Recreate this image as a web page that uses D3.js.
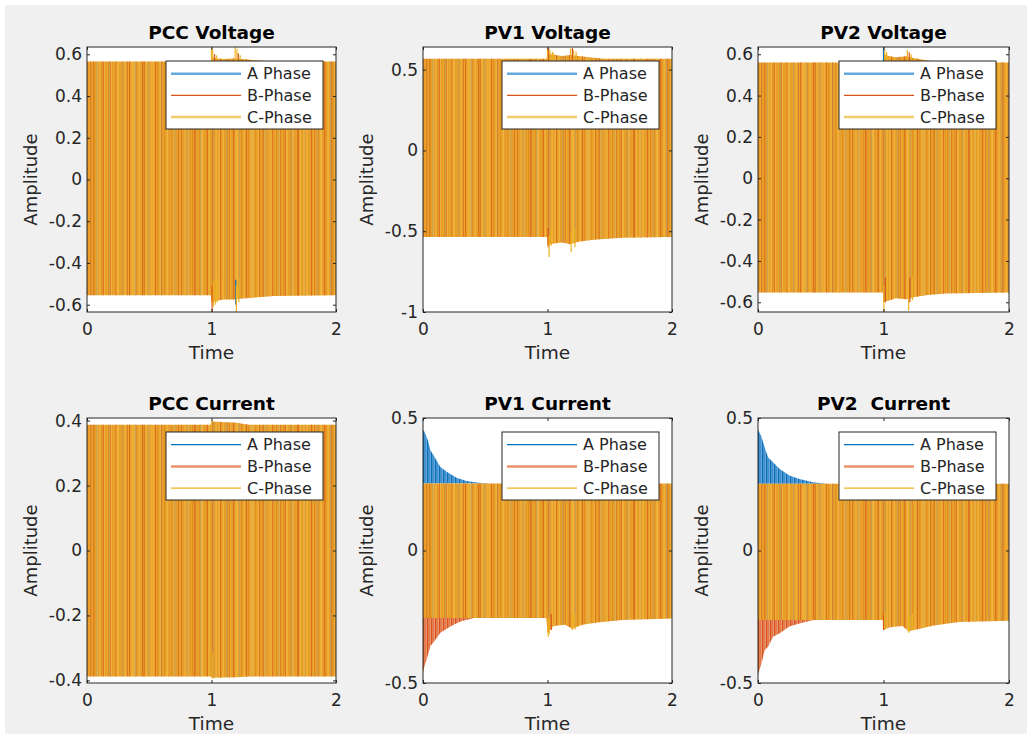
<!DOCTYPE html>
<html>
<head>
<meta charset="utf-8">
<script src="https://cdn.jsdelivr.net/npm/d3@7"></script>
<style>
  body { margin: 0; background: #fff; }
  text { font-family: "DejaVu Sans", sans-serif; fill: #262626; }
</style>
</head>
<body>
<svg width="1032" height="739"></svg>
<script>
// ---- data ----
var titles = ["PCC Voltage", "PV1 Voltage", "PV2 Voltage", "PCC Current", "PV1 Current", "PV2  Current"];
var phaseNames = ["A Phase", "B-Phase", "C-Phase"];
var timeTicks = [0, 1, 2];
var yDomains = [[-0.635, 0.635], [-1, 0.64], [-0.647, 0.635], [-0.408, 0.408], [-0.5, 0.5], [-0.5, 0.5]];
var yTicks = [
  [-0.6, -0.4, -0.2, 0, 0.2, 0.4, 0.6],
  [-1, -0.5, 0, 0.5],
  [-0.6, -0.4, -0.2, 0, 0.2, 0.4, 0.6],
  [-0.4, -0.2, 0, 0.2, 0.4],
  [-0.5, 0, 0.5],
  [-0.5, 0, 0.5]
];

// envelope of the three-phase band (upper / lower peaks over time)
var pccVoltT  = [0, 0.995, 1.0, 1.05, 1.1, 1.18, 1.25, 1.35, 1.5, 2];
var pccVoltHi = [0.565, 0.565, 0.585, 0.58, 0.578, 0.58, 0.578, 0.572, 0.566, 0.565];
var pccVoltLo = [-0.555, -0.555, -0.59, -0.58, -0.575, -0.575, -0.57, -0.565, -0.558, -0.555];

var pv1VoltT  = [0, 0.995, 1.0, 1.06, 1.12, 1.18, 1.25, 1.35, 1.45, 1.6, 2];
var pv1VoltHi = [0.567, 0.567, 0.6, 0.59, 0.585, 0.59, 0.585, 0.575, 0.567, 0.567, 0.567];
var pv1VoltLo = [-0.536, -0.536, -0.585, -0.575, -0.57, -0.58, -0.565, -0.555, -0.548, -0.54, -0.536];

var pv2VoltT  = [0, 0.995, 1.0, 1.05, 1.1, 1.18, 1.25, 1.35, 1.5, 2];
var pv2VoltHi = [0.56, 0.56, 0.6, 0.59, 0.585, 0.59, 0.58, 0.57, 0.562, 0.56];
var pv2VoltLo = [-0.553, -0.553, -0.6, -0.59, -0.58, -0.585, -0.575, -0.565, -0.558, -0.553];

var pccCurT  = [0, 0.995, 1.0, 1.2, 1.3, 2];
var pccCurHi = [0.387, 0.387, 0.397, 0.393, 0.387, 0.387];
var pccCurLo = [-0.388, -0.388, -0.392, -0.39, -0.388, -0.388];

var pv1CurT  = [0, 0.99, 1.0, 1.05, 1.14, 1.2, 1.28, 1.4, 1.6, 2];
var pv1CurHi = [0.253, 0.253, 0.253, 0.253, 0.253, 0.253, 0.253, 0.253, 0.253, 0.253];
var pv1CurLo = [-0.255, -0.255, -0.31, -0.285, -0.28, -0.295, -0.28, -0.272, -0.262, -0.257];

var pv2CurT  = [0, 0.995, 1.0, 1.05, 1.15, 1.2, 1.28, 1.4, 1.6, 2];
var pv2CurHi = [0.252, 0.252, 0.252, 0.252, 0.252, 0.252, 0.252, 0.252, 0.252, 0.252];
var pv2CurLo = [-0.262, -0.262, -0.3, -0.29, -0.285, -0.305, -0.296, -0.283, -0.27, -0.265];

// start-up decay of phase A (top) and phase B (bottom) in the PV currents
var pv1CurAT = [0, 0.01, 0.04, 0.06, 0.1, 0.14, 0.19, 0.27, 0.35, 0.45, 0.55];
var pv1CurAV = [0.455, 0.45, 0.415, 0.378, 0.347, 0.315, 0.297, 0.275, 0.262, 0.256, 0.253];
var pv1CurBT = [0, 0.01, 0.03, 0.06, 0.1, 0.14, 0.22, 0.3, 0.41, 0.5];
var pv1CurBV = [-0.462, -0.44, -0.41, -0.36, -0.337, -0.31, -0.287, -0.268, -0.255, -0.255];

var pv2CurAT = [0, 0.027, 0.053, 0.08, 0.12, 0.173, 0.25, 0.33, 0.44, 0.55];
var pv2CurAV = [0.457, 0.43, 0.39, 0.352, 0.333, 0.308, 0.283, 0.27, 0.258, 0.252];
var pv2CurBT = [0, 0.027, 0.053, 0.08, 0.12, 0.173, 0.25, 0.33, 0.44, 0.55];
var pv2CurBV = [-0.468, -0.427, -0.376, -0.363, -0.325, -0.312, -0.287, -0.275, -0.262, -0.262];

// fault transient spikes (time, peak value, phase)
var pccVoltSpikeT  = [1.0, 1.005, 1.01, 1.015, 1.025, 1.03, 1.04, 1.045, 1.19, 1.195, 1.2, 1.205, 1.215, 1.22, 1.23];
var pccVoltSpikeV  = [0.635, -0.635, 0.62, -0.61, 0.6, -0.6, 0.595, -0.59, 0.635, -0.6, -0.635, 0.625, 0.605, -0.59, 0.595];
var pccVoltSpikePh = ["C", "B", "C", "C", "B", "C", "C", "C", "C", "A", "C", "C", "B", "C", "C"];

var pv1VoltSpikeT  = [1.0, 1.005, 1.01, 1.013, 1.02, 1.03, 1.04, 1.05, 1.185, 1.19, 1.2, 1.21, 1.22, 1.23];
var pv1VoltSpikeV  = [0.64, -0.6, 0.63, -0.66, 0.62, -0.59, 0.61, 0.6, 0.63, -0.63, 0.635, 0.62, -0.6, 0.61];
var pv1VoltSpikePh = ["C", "B", "B", "C", "C", "C", "C", "C", "C", "C", "B", "C", "C", "C"];

var pv2VoltSpikeT  = [1.0, 1.003, 1.01, 1.015, 1.025, 1.03, 1.19, 1.2, 1.205, 1.21, 1.22, 1.23];
var pv2VoltSpikeV  = [0.635, -0.647, 0.625, -0.6, 0.61, -0.59, 0.62, -0.64, 0.61, -0.6, 0.6, -0.59];
var pv2VoltSpikePh = ["A", "C", "C", "B", "C", "C", "C", "C", "B", "B", "C", "C"];

var pccCurSpikeT  = [1.0, 1.01];
var pccCurSpikeV  = [0.4, -0.395];
var pccCurSpikePh = ["C", "C"];

var pv1CurSpikeT  = [1.005, 1.015, 1.03, 1.2, 1.22];
var pv1CurSpikeV  = [-0.325, -0.315, -0.3, -0.3, -0.298];
var pv1CurSpikePh = ["C", "C", "B", "C", "C"];

var pv2CurSpikeT  = [1.0, 1.01, 1.2, 1.21, 1.23];
var pv2CurSpikeV  = [-0.3, -0.295, -0.31, -0.305, -0.3];
var pv2CurSpikePh = ["B", "C", "C", "C", "C"];

// ---- build panel table ----
function zip(t, v) { return t.map(function(d, i) { return [d, v[i]]; }); }
function band(t, hi, lo) { return t.map(function(d, i) { return {t: d, hi: hi[i], lo: lo[i]}; }); }
function spikes(t, v, ph) { return t.map(function(d, i) { return {t: d, v: v[i], ph: ph[i]}; }); }

var panels = [
  {band: band(pccVoltT, pccVoltHi, pccVoltLo), spikes: spikes(pccVoltSpikeT, pccVoltSpikeV, pccVoltSpikePh)},
  {band: band(pv1VoltT, pv1VoltHi, pv1VoltLo), spikes: spikes(pv1VoltSpikeT, pv1VoltSpikeV, pv1VoltSpikePh)},
  {band: band(pv2VoltT, pv2VoltHi, pv2VoltLo), spikes: spikes(pv2VoltSpikeT, pv2VoltSpikeV, pv2VoltSpikePh)},
  {band: band(pccCurT, pccCurHi, pccCurLo), spikes: spikes(pccCurSpikeT, pccCurSpikeV, pccCurSpikePh)},
  {band: band(pv1CurT, pv1CurHi, pv1CurLo), spikes: spikes(pv1CurSpikeT, pv1CurSpikeV, pv1CurSpikePh),
   aEnv: zip(pv1CurAT, pv1CurAV), bEnv: zip(pv1CurBT, pv1CurBV)},
  {band: band(pv2CurT, pv2CurHi, pv2CurLo), spikes: spikes(pv2CurSpikeT, pv2CurSpikeV, pv2CurSpikePh),
   aEnv: zip(pv2CurAT, pv2CurAV), bEnv: zip(pv2CurBT, pv2CurBV)}
];

// ---- drawing ----
var svg = d3.select("svg");
svg.append("rect").attr("width", 1032).attr("height", 739).attr("fill", "#fff");
svg.append("rect").attr("x", 5).attr("y", 5).attr("width", 1022).attr("height", 729).attr("fill", "#f0f0f0");

var phaseColor = {A: "#0072BD", B: "#D95319", C: "#EDB120"};
var defs = svg.append("defs");

// vertical stripe textures that mimic the aliased 50 Hz traces
function stripePattern(id, w, bg, list) {
  var p = defs.append("pattern").attr("id", id)
      .attr("patternUnits", "userSpaceOnUse")
      .attr("width", w).attr("height", 20);
  if (bg) p.append("rect").attr("width", w).attr("height", 20).attr("fill", bg);
  list.forEach(function(s) {
    p.append("rect").attr("x", s[0]).attr("width", s[1]).attr("height", 20)
        .attr("fill", s[2]).attr("fill-opacity", s[3] == null ? 1 : s[3]);
  });
}
stripePattern("mix7", 7, "#EAA32A", [[0, 1.3, "#E38F20"], [2.6, 1.2, "#F0B33A"], [4.6, 1, "#E6992A"]]);
stripePattern("mix13", 13, null, [[3, 1, "#D9621D", 0.75], [9, 1.1, "#BDA262", 0.7]]);
stripePattern("mix17", 17, null, [[6, 1, "#D56A22", 0.6], [12.5, 1.2, "#F3BC45", 0.8]]);
stripePattern("blueStripes", 4, "#6AAADB", [[0, 1.4, "#0A6FBA"], [2.2, 0.9, "#3A8ACB"]]);
stripePattern("redStripes", 4, "#EC9A75", [[0, 1.4, "#D95319"], [2.2, 0.9, "#E07146"]]);

var cols = [[87, 336], [423, 672], [758, 1009]];
var rows = [[47, 312], [418, 683]];

panels.forEach(function(p, i) {
  var cx = cols[i % 3], ry = rows[Math.floor(i / 3)];
  var left = cx[0], right = cx[1], top = ry[0], bottom = ry[1];
  var width = right - left, height = bottom - top;

  var x = d3.scaleLinear().domain([0, 2]).range([0, width]);
  var y = d3.scaleLinear().domain(yDomains[i]).range([height, 0]);

  var g = svg.append("g").attr("transform", "translate(" + left + "," + top + ")");

  g.append("rect").attr("width", width).attr("height", height).attr("fill", "#fff");

  defs.append("clipPath").attr("id", "clip" + i)
    .append("rect").attr("width", width).attr("height", height);

  var plot = g.append("g").attr("clip-path", "url(#clip" + i + ")");

  // start-up envelopes of phase A and B (PV currents)
  if (p.aEnv) {
    var bandTop = p.band[0].hi;
    plot.append("path")
        .datum(p.aEnv)
        .attr("fill", "url(#blueStripes)")
        .attr("d", d3.area()
          .x(function(d) { return x(d[0]); })
          .y0(y(bandTop))
          .y1(function(d) { return y(d[1]); }));
  }
  if (p.bEnv) {
    var bandBot = p.band[0].lo;
    plot.append("path")
        .datum(p.bEnv)
        .attr("fill", "url(#redStripes)")
        .attr("d", d3.area()
          .x(function(d) { return x(d[0]); })
          .y0(y(bandBot))
          .y1(function(d) { return y(d[1]); }));
  }

  var area = d3.area()
      .x(function(d) { return x(d.t); })
      .y0(function(d) { return y(d.lo); })
      .y1(function(d) { return y(d.hi); });

  ["mix7", "mix13", "mix17"].forEach(function(pid) {
    plot.append("path").datum(p.band).attr("fill", "url(#" + pid + ")").attr("d", area);
  });

  plot.selectAll(".spike")
      .data(p.spikes)
    .enter().append("line")
      .attr("class", "spike")
      .attr("x1", function(d) { return x(d.t); })
      .attr("x2", function(d) { return x(d.t); })
      .attr("y1", function(d) { return y(d.v * 0.8); })
      .attr("y2", function(d) { return y(d.v); })
      .attr("stroke", function(d) { return phaseColor[d.ph]; })
      .attr("stroke-width", 1.2);

  // axes (ticks point inward, box on)
  var xb = g.append("g").attr("transform", "translate(0," + height + ")")
      .call(d3.axisBottom(x).tickValues(timeTicks).tickSizeInner(-3).tickSizeOuter(0).tickPadding(11)
        .tickFormat(function(d) { return String(d); }));
  var xt = g.append("g")
      .call(d3.axisTop(x).tickValues(timeTicks).tickSizeInner(-3).tickSizeOuter(0).tickFormat(""));
  var yl = g.append("g")
      .call(d3.axisLeft(y).tickValues(yTicks[i]).tickSizeInner(-3).tickSizeOuter(0).tickPadding(5)
        .tickFormat(function(d) { return String(d); }));
  var yr = g.append("g").attr("transform", "translate(" + width + ",0)")
      .call(d3.axisRight(y).tickValues(yTicks[i]).tickSizeInner(-3).tickSizeOuter(0).tickFormat(""));
  [xb, xt, yl, yr].forEach(function(a) {
    a.select(".domain").remove();
    a.selectAll("line").attr("stroke", "#262626");
    a.selectAll("text").attr("font-size", 17).attr("font-family", "DejaVu Sans").attr("fill", "#262626");
  });

  g.append("rect").attr("width", width).attr("height", height)
      .attr("fill", "none").attr("stroke", "#262626").attr("stroke-width", 1);

  // titles and labels
  g.append("text")
      .attr("x", width / 2).attr("y", -8)
      .attr("text-anchor", "middle")
      .attr("font-size", 18.5).attr("font-weight", "bold")
      .style("fill", "#000").style("white-space", "pre")
      .text(titles[i]);

  g.append("text")
      .attr("x", width / 2).attr("y", height + 47)
      .attr("text-anchor", "middle").attr("font-size", 18.5)
      .text("Time");

  g.append("text")
      .attr("transform", "translate(-50," + (height / 2) + ") rotate(-90)")
      .attr("text-anchor", "middle").attr("font-size", 18)
      .text("Amplitude");

  // legend
  var lw = 157, lh = 68;
  var lg = g.append("g").attr("transform", "translate(" + (width - 13 - lw) + ",14)");
  lg.append("rect").attr("width", lw).attr("height", lh)
      .attr("fill", "#fff").attr("stroke", "#262626").attr("stroke-width", 1);
  var voltRow = i < 3;
  var legStyle = voltRow
    ? [["#64A9DC", 2.5], ["#D95319", 1.2], ["#F2CB6E", 2.5]]
    : [["#0072BD", 1.3], ["#E8916B", 2.5], ["#EDB120", 1.3]];
  phaseNames.forEach(function(name, k) {
    var yy = 12.7 + k * 21.7;
    lg.append("line").attr("x1", 5).attr("x2", 75).attr("y1", yy).attr("y2", yy)
        .attr("stroke", legStyle[k][0]).attr("stroke-width", legStyle[k][1]);
    lg.append("text").attr("x", 81).attr("y", yy).attr("dy", "0.36em")
        .attr("font-size", 16).text(name);
  });
});
</script>
</body>
</html>
